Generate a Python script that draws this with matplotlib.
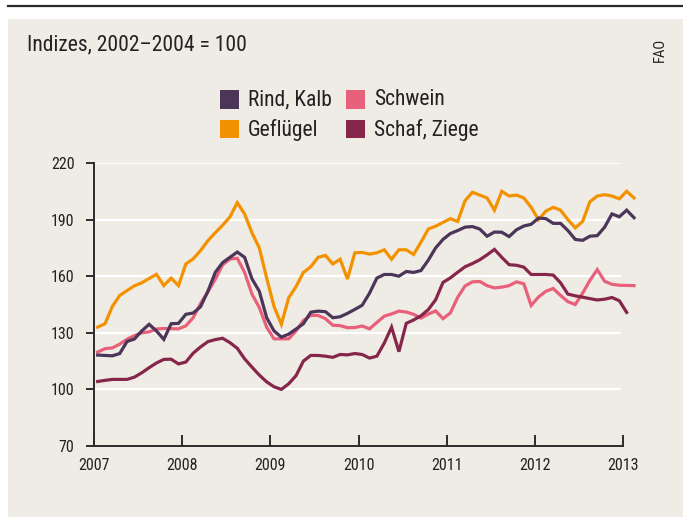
import numpy as np
import matplotlib
matplotlib.use("Agg")
import matplotlib.pyplot as plt
from matplotlib import font_manager as fm
from matplotlib.patches import Rectangle
from matplotlib.lines import Line2D

# monthly index values, Jan 2007 .. Feb 2013
rind = [118.2, 118, 117.8, 119, 125.4, 126.7, 131, 134.5, 131, 126.5, 134.8, 135,
        139.8, 140.5, 143.8, 152, 162, 167.2, 170, 172.8, 170, 158.6, 152, 138,
        131, 127.7, 129.3, 132, 134.8, 140.9, 141.5, 141.2, 138, 138.5, 140.3, 142.4,
        144.6, 151, 159, 160.9, 160.9, 160, 162.5, 162, 163, 168.5, 175, 179.5,
        182.6, 184.2, 186, 186.3, 185, 181.2, 183.4, 183.3, 181, 184.6, 186.6, 187.5,
        190.8, 190.5, 188, 188, 184.2, 179.5, 179, 181.2, 181.5, 186, 193, 191.5,
        195, 191]
gefluegel = [133, 134.8, 144, 149.8, 152.4, 154.9, 156.5, 158.8, 161, 155, 159, 155,
             166.5, 169.2, 173.6, 178.8, 183, 187, 191.4, 199, 193, 183, 175, 159,
             144, 134.5, 148.5, 154.5, 162, 165, 170, 171, 166.5, 169, 158.5, 172.4,
             172.6, 171.7, 172.4, 174, 169, 174, 174, 171.5, 178, 185, 186.5, 188.5,
             190.5, 189, 200, 204.5, 203, 201.5, 195, 205, 202.5, 203, 201.5, 196.5,
             190, 194.5, 196.5, 195, 190, 185.6, 189, 199.5, 202.5, 203.2, 202.5, 201,
             205, 201.5]
schwein = [119.8, 121.6, 122, 124, 126.6, 128.5, 130, 130.5, 132, 132.3, 132.2, 132.1,
           133.7, 138, 145.5, 151.7, 158.3, 166, 169.1, 169.5, 162, 150.5, 143.4, 133,
           126.8, 126.8, 126.8, 131, 136.5, 139.2, 139.2, 137.5, 134, 133.8, 132.7, 132.8,
           133.6, 132.1, 135.5, 138.8, 140, 141.5, 141, 139.8, 137.8, 139.9, 141.6, 137.5,
           140.5, 148.8, 154.8, 157, 157.2, 155, 153.8, 154.2, 155, 157, 156, 144.5,
           149, 152, 153.5, 149.8, 146.5, 145, 151, 157.8, 163.5, 157.3, 155.7, 155.2,
           155.1, 155]
schaf = [104.2, 104.8, 105.3, 105.3, 105.3, 106.5, 108.8, 111.5, 114, 115.9, 116, 113.5,
         114.5, 119.2, 122.5, 125.3, 126.4, 127.1, 124.8, 121.8, 116.2, 111.8, 107.6, 104,
         101.4, 100, 103, 107.3, 115, 118, 118, 117.6, 117, 118.5, 118.3, 119,
         118.5, 116.6, 117.6, 124.5, 133, 120, 135, 136.8, 139, 142.3, 147.5, 156.7,
         159.1, 162.1, 165, 166.7, 168.7, 171.3, 174.2, 170, 166.1, 165.8, 164.8, 160.9,
         160.9, 160.9, 160.6, 156.5, 150.5, 149.6, 148.9, 148.1, 147.4, 147.8, 148.7, 147,
         140.8, np.nan]

labels = ["Rind, Kalb", "Geflügel", "Schwein", "Schaf, Ziege"]
colors = ["#4b3659", "#f39200", "#e9607b", "#86264a"]
yticks = [70, 100, 130, 160, 190, 220]
xticks = [2007, 2008, 2009, 2010, 2011, 2012, 2013]

months = 2007 + (np.arange(len(rind)) + 0.5) / 12


def pick_font():
    fonts = fm.fontManager.ttflist
    for want in ["Liberation Sans Narrow", "Roboto Condensed", "Open Sans Condensed"]:
        for f in fonts:
            if f.name == want and f.style == "normal" and f.weight in (400, "normal", "regular"):
                return fm.FontProperties(fname=f.fname)
    for f in fonts:
        st = f.stretch
        cond = ("condensed" in st) if isinstance(st, str) else st < 500
        if cond and f.style == "normal" and f.weight in (400, "normal", "regular"):
            return fm.FontProperties(fname=f.fname)
    return fm.FontProperties(family="DejaVu Sans")


base = pick_font()


def font(size):
    fp = base.copy()
    fp.set_size(size)
    return fp


W, H = 683, 517
fig = plt.figure(figsize=(W / 100, H / 100), dpi=100)
fx = lambda x: x / W
fy = lambda y: 1 - y / H

# background panel and top rule
fig.patches.append(Rectangle((fx(8), 0), 1 - fx(8), fy(19), transform=fig.transFigure,
                             facecolor="#efebe5", edgecolor="none", zorder=-10))
fig.lines.append(Line2D([fx(8), 1], [fy(6), fy(6)], transform=fig.transFigure,
                        color="#2b2b2b", lw=1.6, zorder=-10))

px_year = (623 - 94) / 6
x_right = 2013.15
ax = fig.add_axes([fx(94), 71 / H, (x_right - 2007) * px_year / W, (446 - 163) / H])
ax.set_facecolor("none")
ax.set_xlim(2007, x_right)
ax.set_ylim(70, 220)

for s in ["top", "right"]:
    ax.spines[s].set_visible(False)
for s in ["left", "bottom"]:
    ax.spines[s].set_color("#2b2b2b")
    ax.spines[s].set_linewidth(1.4)
ax.spines["bottom"].set_bounds(2007, 2013)
ax.spines["left"].set_bounds(70, 220)

ax.hlines(yticks[1:], 2007, 2013 - 0.02, color="white", lw=1.6, zorder=1)

ax.set_yticks(yticks)
ax.set_xticks(xticks)
ax.tick_params(axis="y", direction="out", length=6, width=1.4, color="#2b2b2b", pad=8)
ax.tick_params(axis="x", direction="in", length=8, width=1.4, color="#2b2b2b", pad=9)
for t in ax.get_xticklabels() + ax.get_yticklabels():
    t.set_fontproperties(font(11.5))
    t.set_color("#222222")

series = [gefluegel, schwein, schaf, rind]
order = [1, 2, 3, 0]
for vals, i in zip(series, order):
    ax.plot(months, vals, color=colors[i], lw=2.3, clip_on=False, zorder=3,
            solid_joinstyle="miter")

fig.text(fx(27), fy(50), "Indizes, 2002–2004 = 100", fontproperties=font(15.5),
         color="#222222", va="baseline", ha="left")
fig.text(fx(660), fy(50), "FAO", fontproperties=font(10.5), color="#222222",
         rotation=90, ha="center", va="center")

# legend
sq = 18.5
pos = [(220, 90), (220, 120), (346, 90), (346, 120)]
for (x0, y0), lab, c in zip(pos, labels, colors):
    fig.patches.append(Rectangle((fx(x0), fy(y0 + sq)), sq / W, sq / H,
                                 transform=fig.transFigure, facecolor=c,
                                 edgecolor="none", zorder=2))
    fig.text(fx(x0 + 28), fy(y0 + sq / 2 + 0.5), lab, fontproperties=font(15.5),
             color="#222222", va="center", ha="left")

fig.savefig("out.png", dpi=100)
